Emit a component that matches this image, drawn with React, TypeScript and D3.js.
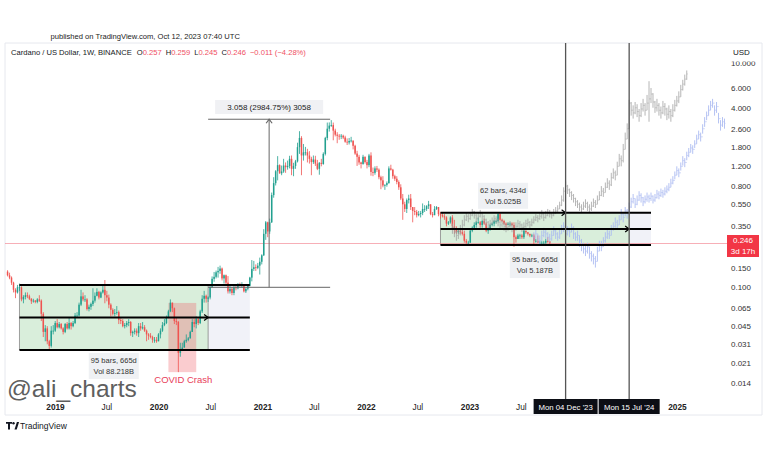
import React from 'react';
import * as d3 from 'd3';

// ---------- DATA ----------
const REAL_START = '2018-07-16';
const REAL_FIRST_OPEN = 0.138;
const realClose = [
  .128,.122,.110,.095,.090,.100,.100,.078,.082,.085,.083,.079,.075,.076,.074,.078,.076,.058,.040,.043,.033,.030,.041,.041,.048,
  .044,.047,.043,.040,.047,.043,.048,.045,.048,.056,.056,.070,.083,.078,.078,.064,.067,.071,.076,.084,.091,.081,.090,.095,.085,.081,.070,.063,.058,.059,.060,.051,.050,.045,.046,.048,.049,.039,.040,.041,.039,.045,.043,.044,.041,.038,.037,.036,.034,.034,.033,.038,
  .041,.046,.048,.054,.061,.073,.065,.050,.049,.026,.028,.029,.033,.034,.035,.040,.049,.047,.052,.048,.061,.079,.084,.079,.081,.101,.119,.124,.136,.140,.147,.120,.128,.110,.092,.097,.089,.100,.098,.106,.104,.104,.092,.097,.103,.122,.146,.151,.149,.156,.169,.193,
  .300,.380,.315,.380,.665,.850,1.085,1.230,1.040,1.080,1.220,1.180,1.210,1.400,1.140,1.210,1.330,1.780,2.150,1.500,1.600,1.600,1.500,1.400,1.310,1.380,1.270,1.140,1.290,1.260,1.550,2.150,2.600,2.770,2.800,2.500,2.300,2.250,2.220,2.250,2.170,1.990,1.960,2.020,2.040,1.830,1.560,1.460,1.300,1.260,1.460,1.310,
  1.230,1.500,1.070,1.050,1.150,1.120,.960,.900,.810,.820,.850,1.150,1.120,.980,.930,.870,.780,.620,.550,.500,.600,.620,.520,.480,.470,.440,.450,.460,.500,.500,.530,.550,.450,.440,.500,.520,.450,.440,.430,.420,.370,.380,.420,.350,.330,.310,.320,.310,.300,.260,.250,.250,
  .320,.340,.360,.380,.380,.360,.390,.370,.320,.330,.360,.370,.390,.390,.450,.400,.390,.370,.360,.370,.370,.360,.280,.270,.290,.290,.280,.320,.310,.300,.290,.290,.260,.260,.250,.250,.250,.250,.260,.257,.246,
];
const realHigh = [
  .142,.135,.125,.112,.098,.105,.108,.102,.085,.090,.090,.086,.080,.079,.077,.080,.085,.078,.060,.046,.045,.034,.045,.046,.050,
  .052,.049,.048,.044,.048,.049,.054,.049,.050,.059,.060,.073,.095,.090,.085,.080,.070,.073,.098,.090,.098,.093,.092,.103,.116,.093,.086,.072,.065,.064,.068,.062,.054,.052,.048,.050,.052,.050,.041,.043,.043,.048,.048,.049,.046,.042,.039,.039,.037,.036,.036,.039,
  .043,.049,.052,.056,.063,.078,.073,.066,.054,.050,.032,.032,.034,.038,.036,.041,.052,.052,.055,.054,.063,.085,.093,.086,.083,.102,.125,.137,.141,.152,.156,.150,.130,.130,.126,.103,.100,.104,.103,.109,.110,.111,.106,.098,.106,.124,.175,.172,.160,.165,.184,.197,
  .330,.390,.385,.410,.700,.960,1.110,1.480,1.250,1.220,1.400,1.300,1.350,1.490,1.500,1.290,1.370,1.950,2.470,2.230,1.900,1.790,1.720,1.640,1.460,1.500,1.490,1.370,1.310,1.400,1.600,2.200,2.950,2.960,3.100,2.950,2.600,2.420,2.330,2.330,2.300,2.250,2.130,2.150,2.200,2.030,1.870,1.650,1.520,1.320,1.520,1.470,
  1.370,1.550,1.600,1.170,1.200,1.210,1.150,.990,.980,.830,.880,1.200,1.240,1.140,1.010,.980,.900,.830,.680,.580,.620,.670,.680,.520,.520,.490,.480,.480,.560,.540,.540,.590,.550,.470,.530,.530,.520,.470,.460,.450,.430,.390,.430,.440,.400,.350,.330,.330,.330,.320,.270,.260,
  .330,.350,.380,.390,.420,.390,.400,.410,.380,.340,.370,.380,.400,.400,.460,.460,.410,.400,.380,.380,.380,.380,.380,.290,.300,.300,.300,.340,.320,.310,.300,.300,.300,.270,.290,.260,.260,.260,.270,.280,.259,
];
const realLow = [
  .125,.118,.105,.090,.080,.088,.093,.075,.072,.078,.080,.077,.071,.073,.072,.072,.074,.050,.036,.033,.031,.0276,.029,.038,.040,
  .043,.043,.042,.038,.039,.042,.042,.042,.044,.047,.054,.055,.068,.075,.074,.062,.061,.063,.068,.073,.083,.078,.080,.088,.072,.075,.065,.055,.056,.055,.057,.047,.047,.044,.043,.044,.045,.037,.036,.038,.037,.036,.041,.042,.040,.033,.034,.035,.032,.032,.032,.033,
  .035,.040,.045,.047,.053,.060,.060,.047,.046,.0175,.024,.027,.029,.032,.033,.035,.040,.044,.043,.046,.047,.059,.073,.073,.074,.078,.099,.112,.120,.122,.132,.115,.108,.106,.088,.088,.085,.085,.094,.096,.101,.100,.090,.089,.094,.102,.113,.140,.140,.145,.130,.160,
  .190,.265,.280,.300,.375,.630,.810,.900,1.030,1.000,1.050,1.050,1.120,1.150,1.000,.980,1.140,1.300,1.550,1.000,1.350,1.500,1.300,1.270,1.000,1.260,1.210,1.110,1.010,1.200,1.240,1.500,2.050,2.450,2.700,2.050,2.220,1.930,2.070,2.100,2.100,1.950,1.860,1.880,1.960,1.700,1.520,1.210,1.240,1.150,1.240,1.270,
  1.150,1.180,.990,.980,1.010,1.070,.920,.750,.780,.740,.790,.840,1.100,.930,.890,.830,.740,.600,.400,.470,.460,.560,.490,.380,.440,.420,.430,.420,.440,.470,.480,.500,.440,.420,.440,.490,.430,.410,.420,.400,.350,.360,.370,.330,.300,.300,.300,.300,.290,.250,.240,.240,
  .250,.310,.330,.340,.370,.340,.340,.360,.310,.300,.320,.350,.350,.370,.380,.390,.380,.360,.340,.360,.350,.350,.230,.250,.270,.270,.270,.270,.300,.290,.280,.280,.240,.250,.250,.240,.240,.240,.240,.250,.245,
];

// projected "bars pattern" (gray)
const GRAY_START = '2022-10-31';
const grayClose = [
  .34,.31,.29,.30,.33,.36,.40,.43,.41,.44, .47,.44,.41,.43,.46,.43,.40,.38,.36,.37,
  .39,.41,.40,.38,.36,.37,.35,.34,.35,.36, .34,.33,.35,.37,.36,.34,.35,.37,.38,.36,
  .38,.40,.42,.41,.43,.45,.42,.44,.46,.45, .44,.46,.48,.50,.54,.60,.72,.80,.74,.70,
  .66,.62,.58,.55,.52,.50,.53,.56,.52,.50, .53,.57,.55,.60,.66,.72,.70,.78,.85,.82,
  .95,1.05,1.0,1.2,1.4,1.35,1.7,2.1,2.6,4.4, 3.8,3.6,4.0,3.7,3.4,3.9,4.2,3.8,4.4,4.8,
  5.3,4.5,4.0,4.2,3.8,3.6,4.1,3.9,3.5,3.7, 3.4,3.8,4.2,4.6,5.0,5.8,6.5,7.2,8.0,
];
const grayHigh = [
  .37,.35,.32,.33,.36,.40,.44,.46,.45,.47, .50,.48,.45,.46,.49,.47,.44,.41,.39,.40,
  .42,.44,.43,.41,.39,.40,.38,.37,.38,.39, .37,.36,.38,.40,.39,.37,.38,.40,.41,.39,
  .41,.43,.45,.44,.47,.49,.46,.48,.50,.49, .47,.50,.52,.54,.58,.66,.78,.88,.82,.76,
  .72,.68,.63,.60,.57,.55,.58,.61,.58,.55, .58,.62,.60,.66,.72,.80,.77,.86,.94,.90,
  1.05,1.15,1.10,1.32,1.55,1.50,1.90,2.40,2.90,4.70, 4.5,4.2,4.5,4.3,3.9,4.4,4.8,4.4,5.2,6.9,
  6.0,5.4,4.6,4.8,4.4,4.1,4.6,4.4,4.0,4.2, 3.9,4.3,4.7,5.1,5.6,6.4,7.1,7.9,8.6,
];
const grayLow = [
  .30,.28,.26,.27,.29,.32,.35,.39,.38,.40, .43,.41,.38,.40,.42,.40,.37,.35,.33,.34,
  .36,.38,.37,.35,.33,.34,.32,.31,.32,.33, .31,.30,.32,.34,.33,.31,.32,.34,.35,.33,
  .35,.37,.39,.38,.40,.41,.39,.41,.43,.42, .41,.43,.45,.47,.50,.53,.58,.70,.68,.64,
  .60,.57,.53,.51,.48,.46,.49,.51,.48,.46, .48,.52,.51,.55,.60,.65,.64,.70,.77,.74,
  .80,.93,.90,1.0,1.2,1.2,1.3,1.7,2.1,2.6, 3.4,3.2,3.5,3.3,3.0,3.3,3.7,3.4,3.8,3.0,
  4.4,4.0,3.6,3.7,3.4,3.2,3.5,3.4,3.1,3.2, 3.0,3.3,3.7,4.1,4.4,5.0,5.7,6.3,7.1,
];

// projected "bars pattern" (blue)
const BLUE_START = '2023-08-14';
const blueClose = [
  .28,.30,.27,.26,.29,.31, .30,.28,.27,.29,.32,.30,.28,.30,.33,.35,
  .30,.32,.31,.34,.30,.28,.29,.26,.24,.22,.21,.23,.20,.19,.18,
  .17,.21,.24,.23,.26,.28, .30,.29,.33,.35,.38,.36,.40,.45,.42,.48,.45,
  .52,.58,.62,.55,.60,.66,.63,.58,.61,.64, .62,.65,.60,.63,.68,.66,.70,.68,.72,.75,
  .78,.85,.90,1.0,1.1,1.05,1.2,1.35,1.3,1.5, 1.6,1.75,1.7,1.9,2.1,2.3,2.2,2.6,3.0,3.4,
  3.8,4.2,4.4,3.8,4.1,3.2,2.8,3.0,2.9,
];
const blueHigh = [
  .31,.33,.30,.29,.32,.34, .33,.31,.30,.32,.35,.33,.31,.33,.36,.38,
  .36,.35,.34,.37,.35,.31,.32,.29,.27,.25,.24,.25,.23,.21,.20,
  .19,.23,.26,.26,.28,.31, .33,.32,.36,.38,.42,.40,.44,.50,.47,.52,.50,
  .57,.63,.68,.62,.66,.72,.69,.64,.66,.70, .67,.70,.66,.68,.74,.72,.76,.74,.78,.81,
  .85,.93,.98,1.08,1.2,1.15,1.3,1.48,1.42,1.62, 1.75,1.9,1.85,2.05,2.3,2.5,2.4,2.85,3.3,3.7,
  4.2,4.6,4.8,4.2,4.5,3.6,3.1,3.3,3.2,
];
const blueLow = [
  .26,.27,.25,.24,.26,.28, .27,.26,.25,.26,.29,.27,.26,.27,.30,.31,
  .28,.29,.28,.31,.27,.26,.26,.23,.21,.20,.19,.20,.18,.17,.16,
  .15,.17,.21,.21,.23,.25, .27,.27,.29,.32,.34,.33,.36,.40,.38,.43,.41,
  .46,.51,.56,.51,.54,.59,.57,.53,.56,.58, .57,.59,.56,.58,.62,.61,.64,.63,.66,.69,
  .72,.78,.83,.92,1.0,.96,1.1,1.22,1.18,1.36, 1.45,1.6,1.55,1.75,1.9,2.1,2.0,2.35,2.7,3.1,
  3.4,3.8,4.0,3.4,3.6,2.9,2.5,2.7,2.6,
];

const priceTicks = [10, 6, 4, 2.6, 1.8, 1.2, 0.8, 0.55, 0.35, 0.15, 0.1, 0.065, 0.045, 0.031, 0.021, 0.014];
const timeTicks = [
  { d: '2019-01-01', t: '2019', bold: true },
  { d: '2019-07-01', t: 'Jul', bold: false },
  { d: '2020-01-01', t: '2020', bold: true },
  { d: '2020-07-01', t: 'Jul', bold: false },
  { d: '2021-01-01', t: '2021', bold: true },
  { d: '2021-07-01', t: 'Jul', bold: false },
  { d: '2022-01-01', t: '2022', bold: true },
  { d: '2022-07-01', t: 'Jul', bold: false },
  { d: '2023-01-01', t: '2023', bold: true },
  { d: '2023-07-01', t: 'Jul', bold: false },
  { d: '2025-01-01', t: '2025', bold: true },
];
const LAST_PRICE = 0.246;
const legendParts = [
  { t: 'O', v: '0.257' }, { t: 'H', v: '0.259' }, { t: 'L', v: '0.245' }, { t: 'C', v: '0.246' },
];
const legendChange = '−0.011 (−4.28%)';
const markerLines = [
  { d: '2023-12-04', t: "Mon 04 Dec '23", w: 64 },
  { d: '2024-07-15', t: "Mon 15 Jul '24", w: 61 },
];
// left channel (2018-2020) and right channel (2022-2024)
const leftBox = { start: '2018-08-27', rangeEnd: '2020-06-22', end: '2020-11-16', top: 0.105, bottom: 0.0276 };
const rightBox = { start: '2022-09-19', mid: '2023-12-04', rangeEnd: '2024-07-15', end: '2024-09-30', top: 0.462, bottom: 0.238 };
const measure = { start: '2020-06-22', end: '2021-08-26', from: 0.1, to: 3.158 };
const covid = { start: '2020-02-03', end: '2020-05-11', top: 0.0725, bottom: 0.0175 };

// ---------- SCALES ----------
const parse = d3.utcParse('%Y-%m-%d');
const P = (s: string) => parse(s) as Date;
const x = d3.scaleUtc().domain([P('2019-01-01'), P('2023-01-01')]).range([55.5, 470]);
const y = d3.scaleLog().domain([0.014, 6]).range([383, 88]);
const PANE = { x0: 5, x1: 727, y0: 43, y1: 399 };
const FONT = '"Liberation Sans", Arial, sans-serif';
const GREEN = '#22a08f';
const RED = '#ef5350';

type Bar = { x: number; o: number; h: number; l: number; c: number };
function buildBars(start: string, first: number | null, C: number[], Hh: number[], L: number[]): Bar[] {
  const s = P(start);
  return C.map((c, i) => ({
    x: x(d3.utcDay.offset(s, 7 * i)),
    o: i === 0 ? (first ?? c) : C[i - 1],
    h: Hh[i], l: L[i], c,
  }));
}
const realBars = buildBars(REAL_START, REAL_FIRST_OPEN, realClose, realHigh, realLow);
const grayBars = buildBars(GRAY_START, null, grayClose, grayHigh, grayLow);
const blueBars = buildBars(BLUE_START, null, blueClose, blueHigh, blueLow);

const fmt = (v: number) => v.toFixed(3);

function Chevron({ cx, cy, dir }: { cx: number; cy: number; dir: 'right' | 'up' }) {
  const d = dir === 'right'
    ? `M${cx - 4},${cy - 3}L${cx},${cy}L${cx - 4},${cy + 3}`
    : `M${cx - 3},${cy + 4}L${cx},${cy}L${cx + 3},${cy + 4}`;
  return <path d={d} fill="none" stroke={dir === 'up' ? '#666' : '#000'} strokeWidth={1.2} />;
}

function RangeLabel({ cx, top, lines }: { cx: number; top: number; lines: string[] }) {
  const w = 50, h = 11 * lines.length + 4;
  return (
    <g>
      <rect x={cx - w / 2} y={top} width={w} height={h} fill="#eef0f3" opacity={0.95} />
      {lines.map((t, i) => (
        <text key={i} x={cx} y={top + 10 + i * 11} textAnchor="middle" fontSize={7.5} fill="#333">{t}</text>
      ))}
    </g>
  );
}

export default function App() {
  const lb = {
    x0: x(P(leftBox.start)), xr: x(P(leftBox.rangeEnd)), x1: x(P(leftBox.end)),
    yt: y(leftBox.top), yb: y(leftBox.bottom),
  };
  const lbMid = Math.sqrt(leftBox.top * leftBox.bottom);
  const rb = {
    x0: x(P(rightBox.start)), xm: x(P(rightBox.mid)), xr: x(P(rightBox.rangeEnd)), x1: x(P(rightBox.end)),
    yt: y(rightBox.top), yb: y(rightBox.bottom),
  };
  const rbMid = Math.sqrt(rightBox.top * rightBox.bottom);
  const ms = { x0: x(P(measure.start)), x1: x(P(measure.end)), yt: y(measure.to), yb: y(measure.from) };
  const msCx = (ms.x0 + ms.x1) / 2;
  const cv = { x0: x(P(covid.start)), x1: x(P(covid.end)), yt: y(covid.top), yb: y(covid.bottom) };
  const lastY = Math.round(y(LAST_PRICE)) + 0.5;

  const drawCandles = (bars: Bar[]) =>
    bars.map((b, i) => {
      const up = b.c >= b.o;
      const col = up ? GREEN : RED;
      const yo = y(b.o), yc = y(b.c);
      return (
        <g key={i}>
          <line x1={b.x} x2={b.x} y1={y(b.h)} y2={y(b.l)} stroke={col} strokeWidth={0.8} />
          <rect x={b.x - 0.75} y={Math.min(yo, yc)} width={1.5} height={Math.max(0.8, Math.abs(yo - yc))} fill={col} />
        </g>
      );
    });
  const drawGhost = (bars: Bar[], col: string, op: number) =>
    bars.map((b, i) => (
      <g key={i} opacity={op}>
        <line x1={b.x} x2={b.x} y1={y(b.h)} y2={y(b.l)} stroke={col} strokeWidth={1} />
        <line x1={b.x - 0.9} x2={b.x} y1={y(b.o)} y2={y(b.o)} stroke={col} strokeWidth={0.8} />
        <line x1={b.x} x2={b.x + 0.9} y1={y(b.c)} y2={y(b.c)} stroke={col} strokeWidth={0.8} />
      </g>
    ));

  const legendEls: React.ReactNode[] = [];
  legendParts.forEach((p, i) => {
    legendEls.push(<tspan key={'t' + i} dx={i === 0 ? 5 : 4} fill="#131722">{p.t}</tspan>);
    legendEls.push(<tspan key={'v' + i} fill="#ef4f63">{p.v}</tspan>);
  });
  legendEls.push(<tspan key="chg" dx={4} fill="#ef4f63">{legendChange}</tspan>);

  return (
    <svg width={768} height={463} viewBox="0 0 768 463" style={{ position: 'absolute', left: 0, top: 0, fontFamily: FONT }}>
      <defs>
        <clipPath id="pane"><rect x={PANE.x0} y={PANE.y0} width={PANE.x1 - PANE.x0} height={PANE.y1 - PANE.y0} /></clipPath>
        <clipPath id="axis"><rect x={727} y={61.5} width={40} height={340} /></clipPath>
      </defs>
      <rect width={768} height={463} fill="#fff" />
      <text x={50.5} y={38.5} fontSize={7.6} fill="#222">published on TradingView.com, Oct 12, 2023 07:40 UTC</text>
      {/* frame */}
      <path d={`M5,43H762V415H5Z`} fill="none" stroke="#e6e8ee" strokeWidth={1} />

      <g clipPath="url(#pane)">
        {/* channel fills */}
        <rect x={lb.xr} y={lb.yt} width={lb.x1 - lb.xr} height={lb.yb - lb.yt} fill="#f1f2f8" />
        <rect x={lb.x0} y={lb.yt} width={lb.xr - lb.x0} height={lb.yb - lb.yt} fill="#d9eedb" />
        <rect x={rb.xr} y={rb.yt} width={rb.x1 - rb.xr} height={rb.yb - rb.yt} fill="#f1f2f8" />
        <rect x={rb.x0} y={rb.yt} width={rb.xr - rb.x0} height={rb.yb - rb.yt} fill="#d9eedb" />
        <line x1={lb.x0} x2={lb.x0} y1={lb.yt} y2={lb.yb} stroke="#888" strokeWidth={0.8} />
        <line x1={lb.xr} x2={lb.xr} y1={lb.yt} y2={lb.yb} stroke="#888" strokeWidth={0.8} />
        <line x1={rb.x0} x2={rb.x0} y1={rb.yt} y2={rb.yb} stroke="#888" strokeWidth={0.8} />

        {/* COVID crash highlight */}
        <rect x={cv.x0} y={cv.yt} width={cv.x1 - cv.x0} height={cv.yb - cv.yt} fill="#f0616a" opacity={0.32} />

        {/* last price line */}
        <line x1={PANE.x0} x2={PANE.x1} y1={lastY} y2={lastY} stroke="#f06d7b" strokeOpacity={0.55} strokeWidth={1} />

        {drawCandles(realBars)}
        {drawGhost(grayBars, '#9e9e9e', 0.75)}
        {drawGhost(blueBars, '#a9b9f2', 0.85)}

        {/* channel lines */}
        {[leftBox.top, lbMid, leftBox.bottom].map((v, i) => (
          <line key={'l' + i} x1={lb.x0} x2={lb.x1} y1={y(v)} y2={y(v)} stroke="#000" strokeWidth={2} />
        ))}
        <Chevron cx={lb.xr} cy={y(lbMid)} dir="right" />
        {[rightBox.top, rbMid, rightBox.bottom].map((v, i) => (
          <line key={'r' + i} x1={rb.x0} x2={rb.x1} y1={y(v)} y2={y(v)} stroke="#000" strokeWidth={2} />
        ))}
        <Chevron cx={rb.xm} cy={rb.yt} dir="right" />
        <Chevron cx={rb.xr} cy={y(rbMid)} dir="right" />

        {/* price range measure */}
        <line x1={ms.x0} x2={ms.x1} y1={ms.yt} y2={ms.yt} stroke="#666" strokeWidth={1} />
        <line x1={ms.x0} x2={ms.x1} y1={ms.yb} y2={ms.yb} stroke="#666" strokeWidth={1} />
        <line x1={msCx} x2={msCx} y1={ms.yt} y2={ms.yb} stroke="#666" strokeWidth={1} />
        <Chevron cx={msCx} cy={ms.yt} dir="up" />

        {/* marker verticals */}
        {markerLines.map((m, i) => (
          <line key={i} x1={x(P(m.d))} x2={x(P(m.d))} y1={PANE.y0} y2={PANE.y1} stroke="#555" strokeWidth={1.3} />
        ))}
      </g>

      {/* measure label */}
      <rect x={msCx - 54} y={100} width={108} height={14} fill="#f0f1f4" />
      <text x={msCx} y={110} textAnchor="middle" fontSize={8} fill="#222">3.058 (2984.75%) 3058</text>

      {/* range labels */}
      <RangeLabel cx={(lb.x0 + lb.xr) / 2} top={lb.yb + 3} lines={['95 bars, 665d', 'Vol 88.218B']} />
      <RangeLabel cx={(rb.x0 + rb.xm) / 2} top={rb.yt - 30} lines={['62 bars, 434d', 'Vol 5.025B']} />
      <RangeLabel cx={(rb.x0 + rb.xr) / 2} top={rb.yb + 7} lines={['95 bars, 665d', 'Vol 5.187B']} />

      <text x={(cv.x0 + cv.x1) / 2 + 1} y={382.5} textAnchor="middle" fontSize={9.5} fill="#e8405a">COVID Crash</text>

      {/* legend */}
      <text x={11} y={55} fontSize={7.6} fill="#131722">
        <tspan>Cardano / US Dollar, 1W, BINANCE</tspan>
        {legendEls}
      </text>

      {/* watermark */}
      <text x={7} y={397} fontSize={24.5} fill="#5f5f5f">@ali_charts</text>

      {/* price axis */}
      <text x={733} y={55} fontSize={8} fill="#131722">USD</text>
      <g clipPath="url(#axis)">
        {priceTicks.map((v, i) => (
          <text key={i} x={731} y={y(v) + 3} fontSize={8} fill="#333">{fmt(v)}</text>
        ))}
      </g>
      <rect x={727} y={lastY - 8.5} width={32} height={22} fill="#f23645" />
      <text x={743} y={lastY - 0.5} textAnchor="middle" fontSize={8} fill="#fff">{fmt(LAST_PRICE)}</text>
      <text x={743} y={lastY + 10} textAnchor="middle" fontSize={8} fill="#fff">3d 17h</text>

      {/* time axis */}
      {timeTicks.map((t, i) => (
        <text key={i} x={x(P(t.d))} y={410} textAnchor="middle" fontSize={8.3}
          fontWeight={t.bold ? 'bold' : 'normal'} fill="#222">{t.t}</text>
      ))}
      {markerLines.map((m, i) => {
        const cx = x(P(m.d));
        return (
          <g key={i}>
            <rect x={cx - m.w / 2} y={399} width={m.w} height={15} fill="#0c0e15" />
            <text x={cx} y={409.5} textAnchor="middle" fontSize={7.8} fill="#fff">{m.t}</text>
          </g>
        );
      })}

      {/* TradingView logo */}
      <g fill="#131722">
        <path d="M6,422h6v1.8h-2v5.7h-2v-5.7h-2z" />
        <circle cx={13.5} cy={423.2} r={1.2} />
        <path d="M14.5,429.5l2.4,-7.5h2.2l-2.4,7.5z" />
      </g>
      <text x={20} y={429} fontSize={8.5} fill="#131722">TradingView</text>
    </svg>
  );
}
